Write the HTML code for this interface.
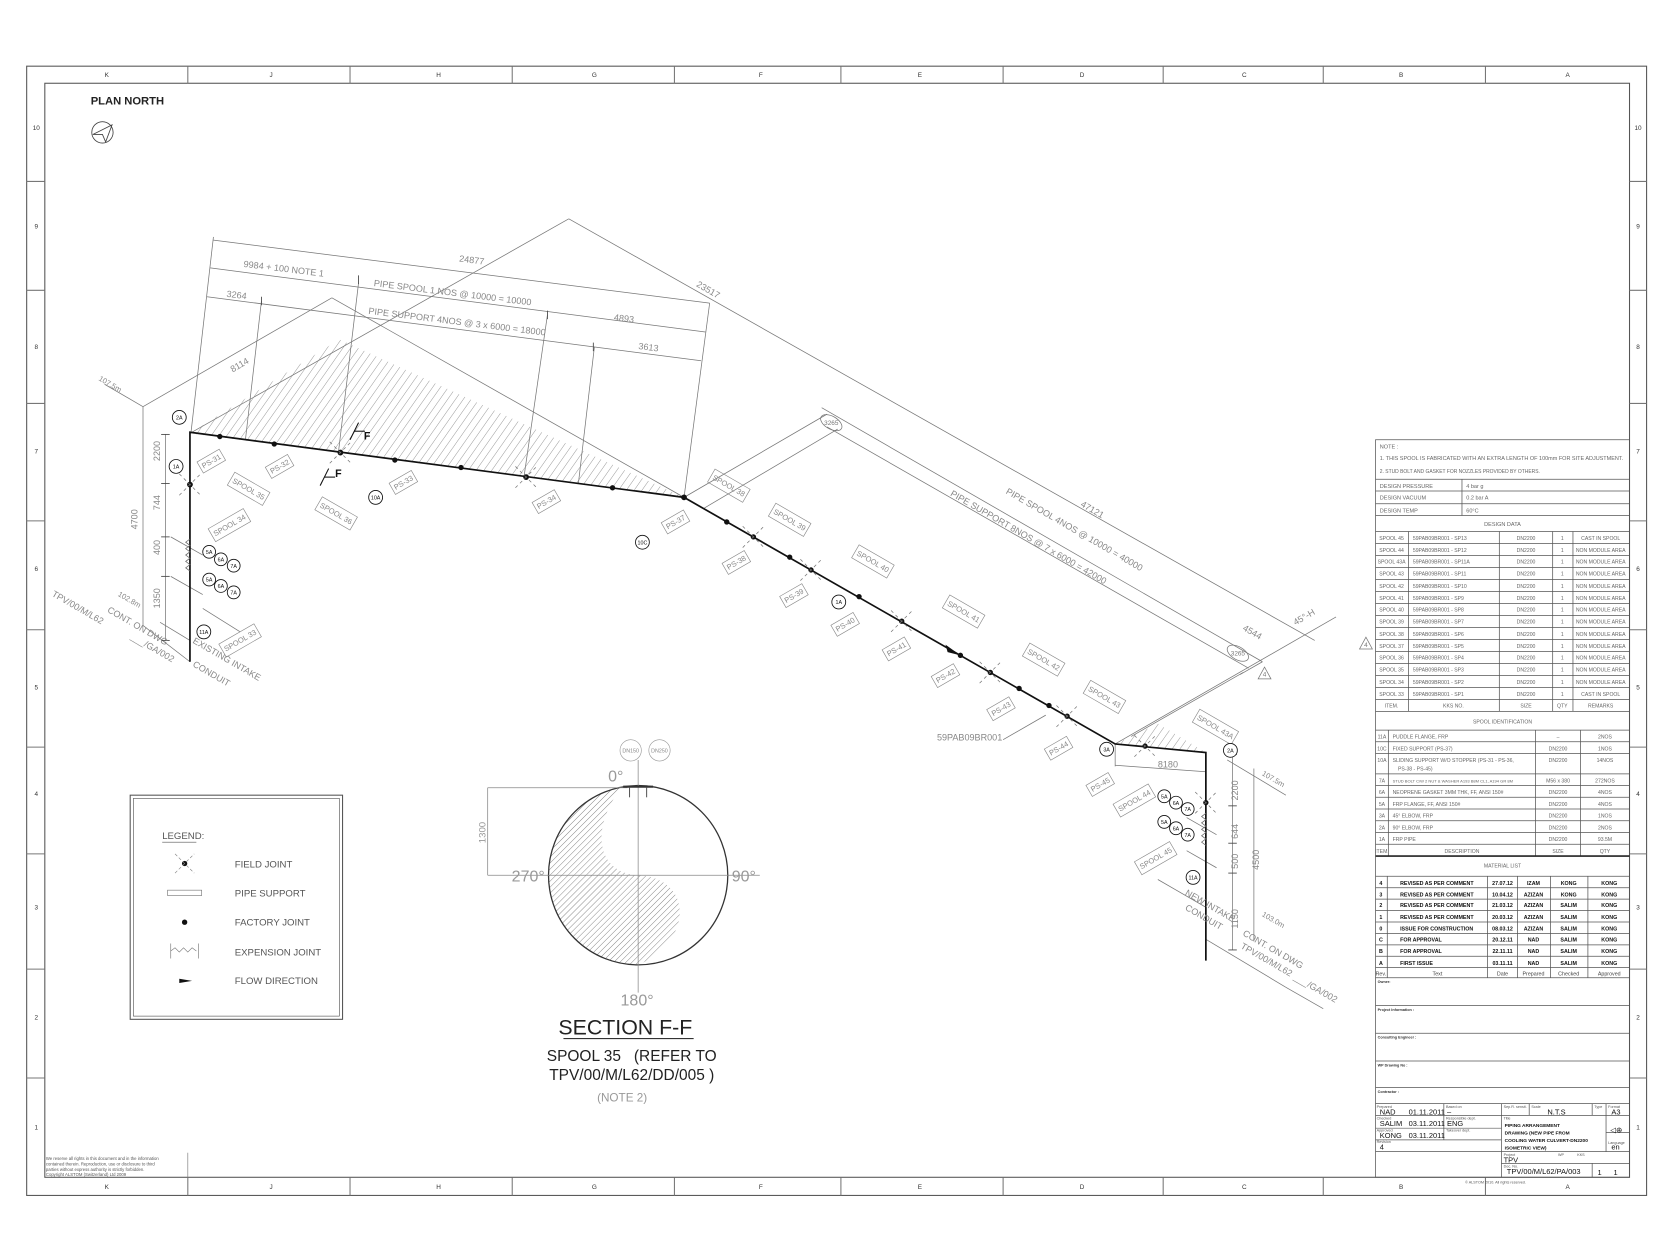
<!DOCTYPE html>
<html><head><meta charset="utf-8"><style>
html,body{margin:0;padding:0;background:#fff;}
svg{display:block}
text{font-family:"Liberation Sans Narrow","Liberation Sans",sans-serif;}
.g{fill:#777}
.k{fill:#111}
.b{font-weight:bold}
</style></head><body>
<svg width="1669" height="1252" viewBox="0 0 1564 1173" preserveAspectRatio="none" xmlns="http://www.w3.org/2000/svg">
<defs>
<pattern id="h" patternUnits="userSpaceOnUse" width="6" height="6" patternTransform="rotate(35)">
<line x1="0" y1="0" x2="0" y2="6" stroke="#777" stroke-width="0.7"/></pattern>
<pattern id="h2" patternUnits="userSpaceOnUse" width="4" height="4" patternTransform="rotate(45)">
<line x1="0" y1="0" x2="0" y2="4" stroke="#777" stroke-width="0.8"/></pattern>
<clipPath id="cc"><circle cx="598" cy="820" r="84"/></clipPath>
</defs>
<rect width="1564" height="1173" fill="#fff"/>
<!-- border -->
<g fill="none" stroke="#555" stroke-width="1">
<rect x="25" y="62" width="1518" height="1058"/>
<rect x="42" y="78" width="1485" height="1025"/>
</g>
<g stroke="#777" stroke-width="1">
<line x1="176" y1="62" x2="176" y2="78"/><line x1="328" y1="62" x2="328" y2="78"/><line x1="480" y1="62" x2="480" y2="78"/><line x1="632" y1="62" x2="632" y2="78"/><line x1="788" y1="62" x2="788" y2="78"/><line x1="940" y1="62" x2="940" y2="78"/><line x1="1090" y1="62" x2="1090" y2="78"/><line x1="1240" y1="62" x2="1240" y2="78"/><line x1="1392" y1="62" x2="1392" y2="78"/>
<line x1="176" y1="1103" x2="176" y2="1120"/><line x1="328" y1="1103" x2="328" y2="1120"/><line x1="480" y1="1103" x2="480" y2="1120"/><line x1="632" y1="1103" x2="632" y2="1120"/><line x1="788" y1="1103" x2="788" y2="1120"/><line x1="940" y1="1103" x2="940" y2="1120"/><line x1="1090" y1="1103" x2="1090" y2="1120"/><line x1="1240" y1="1103" x2="1240" y2="1120"/><line x1="1392" y1="1103" x2="1392" y2="1120"/>
<line x1="25" y1="170" x2="42" y2="170"/><line x1="25" y1="272" x2="42" y2="272"/><line x1="25" y1="378" x2="42" y2="378"/><line x1="25" y1="488" x2="42" y2="488"/><line x1="25" y1="590" x2="42" y2="590"/><line x1="25" y1="700" x2="42" y2="700"/><line x1="25" y1="800" x2="42" y2="800"/><line x1="25" y1="908" x2="42" y2="908"/><line x1="25" y1="1010" x2="42" y2="1010"/>
<line x1="1527" y1="170" x2="1543" y2="170"/><line x1="1527" y1="272" x2="1543" y2="272"/><line x1="1527" y1="378" x2="1543" y2="378"/><line x1="1527" y1="488" x2="1543" y2="488"/><line x1="1527" y1="590" x2="1543" y2="590"/><line x1="1527" y1="700" x2="1543" y2="700"/><line x1="1527" y1="800" x2="1543" y2="800"/><line x1="1527" y1="908" x2="1543" y2="908"/><line x1="1527" y1="1010" x2="1543" y2="1010"/>
</g>
<g font-size="6" fill="#333" text-anchor="middle">
<text x="100" y="72">K</text><text x="254" y="72">J</text><text x="411" y="72">H</text><text x="557" y="72">G</text><text x="713" y="72">F</text><text x="862" y="72">E</text><text x="1014" y="72">D</text><text x="1166" y="72">C</text><text x="1313" y="72">B</text><text x="1469" y="72">A</text>
<text x="100" y="1114">K</text><text x="254" y="1114">J</text><text x="411" y="1114">H</text><text x="557" y="1114">G</text><text x="713" y="1114">F</text><text x="862" y="1114">E</text><text x="1014" y="1114">D</text><text x="1166" y="1114">C</text><text x="1313" y="1114">B</text><text x="1469" y="1114">A</text>
<text x="34" y="122">10</text><text x="34" y="214">9</text><text x="34" y="327">8</text><text x="34" y="425">7</text><text x="34" y="535">6</text><text x="34" y="646">5</text><text x="34" y="746">4</text><text x="34" y="852">3</text><text x="34" y="955">2</text><text x="34" y="1058">1</text>
<text x="1535" y="122">10</text><text x="1535" y="214">9</text><text x="1535" y="327">8</text><text x="1535" y="425">7</text><text x="1535" y="535">6</text><text x="1535" y="646">5</text><text x="1535" y="746">4</text><text x="1535" y="852">3</text><text x="1535" y="955">2</text><text x="1535" y="1058">1</text>
</g>
<!-- plan north -->
<text x="85" y="98" font-size="10.5" class="b" fill="#222" style="font-family:'Liberation Sans',sans-serif">PLAN NORTH</text>
<circle cx="96" cy="124" r="10" fill="none" stroke="#444" stroke-width="0.8"/>
<path d="M87 126 L105 117 L99 133 L96 126 Z" fill="none" stroke="#444" stroke-width="0.8"/>

<!-- hatch triangles -->
<polygon points="178,406 318,318 641,466" fill="url(#h)"/>
<polygon points="1045,697 1085,678 1130,705" fill="url(#h)"/>

<!-- thin construction lines -->
<g stroke="#777" stroke-width="0.7" fill="none">
<line x1="178" y1="406" x2="533" y2="205"/>
<line x1="533" y1="205" x2="1232" y2="600"/>
<line x1="134" y1="381" x2="311" y2="279"/>
<line x1="311" y1="279" x2="641" y2="466"/>
<line x1="200" y1="225" x2="665" y2="284"/>
<line x1="197" y1="251" x2="661" y2="311"/>
<line x1="194" y1="278" x2="657" y2="338"/>
<line x1="179" y1="405" x2="200" y2="222"/>
<line x1="245" y1="282" x2="230" y2="412"/>
<line x1="336" y1="265" x2="317" y2="425"/>
<line x1="513" y1="295" x2="491" y2="447"/>
<line x1="557" y1="325" x2="542" y2="453"/>
<line x1="665" y1="284" x2="641" y2="466"/>
<line x1="134" y1="381" x2="134" y2="586"/>
<line x1="98" y1="360" x2="134" y2="381"/>
<line x1="155" y1="407" x2="155" y2="600"/>
<line x1="134" y1="586" x2="178" y2="620"/>
<line x1="641" y1="466" x2="775" y2="388"/>
<line x1="660" y1="476" x2="785" y2="402"/>
<line x1="770" y1="382" x2="1183" y2="620"/>
<line x1="775" y1="400" x2="1170" y2="626"/>
<line x1="1045" y1="697" x2="1252" y2="578"/>
<line x1="1060" y1="690" x2="1165" y2="630"/>
<line x1="1183" y1="620" x2="1162" y2="632"/>
<line x1="1045" y1="697" x2="1045" y2="718"/>
<line x1="1045" y1="717" x2="1130" y2="723"/>
<line x1="1155" y1="707" x2="1155" y2="890"/>
<line x1="1175" y1="720" x2="1175" y2="882"/>
<line x1="1150" y1="712" x2="1205" y2="745"/>
<line x1="1130" y1="880" x2="1205" y2="925"/>
<line x1="1205" y1="925" x2="1240" y2="945"/>
<line x1="160" y1="503" x2="190" y2="520"/>
<line x1="160" y1="540" x2="190" y2="557"/>
<line x1="1112" y1="766" x2="1140" y2="782"/>
<line x1="1112" y1="797" x2="1140" y2="813"/>
<line x1="940" y1="693" x2="980" y2="670"/>
<line x1="1085" y1="824" x2="1130" y2="850"/>
<line x1="190" y1="570" x2="225" y2="592"/>
<line x1="150" y1="583" x2="178" y2="600"/>
</g>
<g stroke="#444" stroke-width="0.8">
<line x1="151" y1="407" x2="159" y2="407"/><line x1="151" y1="453" x2="159" y2="453"/><line x1="151" y1="503" x2="159" y2="503"/><line x1="151" y1="540" x2="159" y2="540"/><line x1="151" y1="600" x2="159" y2="600"/>
<line x1="1151" y1="707" x2="1159" y2="707"/><line x1="1151" y1="755" x2="1159" y2="755"/><line x1="1151" y1="790" x2="1159" y2="790"/><line x1="1151" y1="818" x2="1159" y2="818"/><line x1="1151" y1="890" x2="1159" y2="890"/>
<line x1="245" y1="278" x2="245" y2="286"/><line x1="556" y1="321" x2="556" y2="329"/><line x1="336" y1="258" x2="336" y2="266"/><line x1="513" y1="291" x2="513" y2="299"/>
</g>
<!-- pipe -->
<g stroke="#111" stroke-width="1.6" fill="none">
<polyline points="178,620 178,405 641,466 1045,697 1130,705 1130,900"/>
</g>
<!-- expansion joints -->
<path d="M178 505 l-4 3 4 3 -4 3 4 3 -4 3 4 3 -4 3 4 3 -4 3 4 3" fill="none" stroke="#666" stroke-width="0.7"/>
<path d="M1130 762 l-4 3 4 3 -4 3 4 3 -4 3 4 3 -4 3 4 3 -4 3 4 3" fill="none" stroke="#666" stroke-width="0.7"/>
<!-- joints -->
<g fill="#111">
<circle cx="206" cy="409" r="2.5"/><circle cx="257" cy="416" r="2.5"/><circle cx="319" cy="424" r="2.7"/><circle cx="370" cy="431" r="2.5"/><circle cx="432" cy="438" r="2.5"/><circle cx="493" cy="447" r="2.7"/><circle cx="574" cy="457" r="2.5"/><circle cx="641" cy="466" r="2.7"/>
<circle cx="178" cy="454" r="2.7"/>
<circle cx="681" cy="489" r="2.5"/><circle cx="706" cy="503" r="2.5"/><circle cx="740" cy="522" r="2.5"/><circle cx="760" cy="534" r="2.5"/><circle cx="805" cy="559" r="2.5"/><circle cx="845" cy="582" r="2.5"/><circle cx="900" cy="614" r="2.5"/><circle cx="928" cy="630" r="2.5"/><circle cx="955" cy="645" r="2.5"/><circle cx="983" cy="661" r="2.5"/><circle cx="1000" cy="671" r="2.5"/><circle cx="1073" cy="699" r="2.5"/><circle cx="1130" cy="752" r="2.5"/>
<path d="M886 604 L900 614 L888 611 Z"/>
</g>
<g stroke="#777" stroke-width="0.7" stroke-dasharray="3,3">
<line x1="168" y1="444" x2="188" y2="464"/><line x1="168" y1="464" x2="188" y2="444"/>
<line x1="309" y1="414" x2="329" y2="434"/><line x1="309" y1="434" x2="329" y2="414"/>
<line x1="483" y1="437" x2="503" y2="457"/><line x1="483" y1="457" x2="503" y2="437"/>
<line x1="696" y1="493" x2="716" y2="513"/><line x1="696" y1="513" x2="716" y2="493"/>
<line x1="750" y1="524" x2="770" y2="544"/><line x1="750" y1="544" x2="770" y2="524"/>
<line x1="835" y1="572" x2="855" y2="592"/><line x1="835" y1="592" x2="855" y2="572"/>
<line x1="918" y1="620" x2="938" y2="640"/><line x1="918" y1="640" x2="938" y2="620"/>
<line x1="990" y1="661" x2="1010" y2="681"/><line x1="990" y1="681" x2="1010" y2="661"/>
<line x1="1063" y1="689" x2="1083" y2="709"/><line x1="1063" y1="709" x2="1083" y2="689"/>
<line x1="1120" y1="742" x2="1140" y2="762"/><line x1="1120" y1="762" x2="1140" y2="742"/>
</g>
<!-- section markers F -->
<g stroke="#111" stroke-width="1" fill="#111">
<line x1="328" y1="412" x2="336" y2="396"/><line x1="332" y1="404" x2="342" y2="404"/>
<line x1="300" y1="455" x2="308" y2="439"/><line x1="304" y1="447" x2="314" y2="447"/>
</g>
<text x="341" y="412" font-size="10" class="b k" style="font-family:'Liberation Sans',sans-serif">F</text>
<text x="314" y="447" font-size="10" class="b k" style="font-family:'Liberation Sans',sans-serif">F</text>

<!-- boxed labels -->
<g font-size="7" fill="#888" text-anchor="middle" stroke="none">
<g transform="translate(198,432) rotate(-30)"><rect x="-12" y="-6" width="24" height="12" fill="none" stroke="#888" stroke-width="0.6"/><text y="2.5">PS-31</text></g>
<g transform="translate(233,458) rotate(30)"><rect x="-19" y="-7" width="38" height="14" fill="none" stroke="#888" stroke-width="0.6"/><text y="2.5">SPOOL 35</text></g>
<g transform="translate(262,437) rotate(-30)"><rect x="-12" y="-6" width="24" height="12" fill="none" stroke="#888" stroke-width="0.6"/><text y="2.5">PS-32</text></g>
<g transform="translate(315,481) rotate(30)"><rect x="-19" y="-7" width="38" height="14" fill="none" stroke="#888" stroke-width="0.6"/><text y="2.5">SPOOL 36</text></g>
<g transform="translate(378,452) rotate(-30)"><rect x="-12" y="-6" width="24" height="12" fill="none" stroke="#888" stroke-width="0.6"/><text y="2.5">PS-33</text></g>
<g transform="translate(215,492) rotate(-30)"><rect x="-19" y="-7" width="38" height="14" fill="none" stroke="#888" stroke-width="0.6"/><text y="2.5">SPOOL 34</text></g>
<g transform="translate(225,600) rotate(-30)"><rect x="-19" y="-7" width="38" height="14" fill="none" stroke="#888" stroke-width="0.6"/><text y="2.5">SPOOL 33</text></g>
<g transform="translate(512,470) rotate(-30)"><rect x="-12" y="-6" width="24" height="12" fill="none" stroke="#888" stroke-width="0.6"/><text y="2.5">PS-34</text></g>
<g transform="translate(633,489) rotate(-30)"><rect x="-12" y="-6" width="24" height="12" fill="none" stroke="#888" stroke-width="0.6"/><text y="2.5">PS-37</text></g>
<g transform="translate(683,455) rotate(30)"><rect x="-19" y="-7" width="38" height="14" fill="none" stroke="#888" stroke-width="0.6"/><text y="2.5">SPOOL 38</text></g>
<g transform="translate(740,487) rotate(30)"><rect x="-19" y="-7" width="38" height="14" fill="none" stroke="#888" stroke-width="0.6"/><text y="2.5">SPOOL 39</text></g>
<g transform="translate(690,527) rotate(-30)"><rect x="-12" y="-6" width="24" height="12" fill="none" stroke="#888" stroke-width="0.6"/><text y="2.5">PS-38</text></g>
<g transform="translate(818,526) rotate(30)"><rect x="-19" y="-7" width="38" height="14" fill="none" stroke="#888" stroke-width="0.6"/><text y="2.5">SPOOL 40</text></g>
<g transform="translate(744,558) rotate(-30)"><rect x="-12" y="-6" width="24" height="12" fill="none" stroke="#888" stroke-width="0.6"/><text y="2.5">PS-39</text></g>
<g transform="translate(792,585) rotate(-30)"><rect x="-12" y="-6" width="24" height="12" fill="none" stroke="#888" stroke-width="0.6"/><text y="2.5">PS-40</text></g>
<g transform="translate(903,573) rotate(30)"><rect x="-19" y="-7" width="38" height="14" fill="none" stroke="#888" stroke-width="0.6"/><text y="2.5">SPOOL 41</text></g>
<g transform="translate(840,608) rotate(-30)"><rect x="-12" y="-6" width="24" height="12" fill="none" stroke="#888" stroke-width="0.6"/><text y="2.5">PS-41</text></g>
<g transform="translate(886,633) rotate(-30)"><rect x="-12" y="-6" width="24" height="12" fill="none" stroke="#888" stroke-width="0.6"/><text y="2.5">PS-42</text></g>
<g transform="translate(978,618) rotate(30)"><rect x="-19" y="-7" width="38" height="14" fill="none" stroke="#888" stroke-width="0.6"/><text y="2.5">SPOOL 42</text></g>
<g transform="translate(938,664) rotate(-30)"><rect x="-12" y="-6" width="24" height="12" fill="none" stroke="#888" stroke-width="0.6"/><text y="2.5">PS-43</text></g>
<g transform="translate(1035,653) rotate(30)"><rect x="-19" y="-7" width="38" height="14" fill="none" stroke="#888" stroke-width="0.6"/><text y="2.5">SPOOL 43</text></g>
<g transform="translate(992,701) rotate(-30)"><rect x="-12" y="-6" width="24" height="12" fill="none" stroke="#888" stroke-width="0.6"/><text y="2.5">PS-44</text></g>
<g transform="translate(1031,735) rotate(-30)"><rect x="-12" y="-6" width="24" height="12" fill="none" stroke="#888" stroke-width="0.6"/><text y="2.5">PS-45</text></g>
<g transform="translate(1139,681) rotate(30)"><rect x="-21" y="-7" width="42" height="14" fill="none" stroke="#888" stroke-width="0.6"/><text y="2.5">SPOOL 43A</text></g>
<g transform="translate(1063,750) rotate(-30)"><rect x="-19" y="-7" width="38" height="14" fill="none" stroke="#888" stroke-width="0.6"/><text y="2.5">SPOOL 44</text></g>
<g transform="translate(1083,804) rotate(-30)"><rect x="-19" y="-7" width="38" height="14" fill="none" stroke="#888" stroke-width="0.6"/><text y="2.5">SPOOL 45</text></g>
</g>

<!-- bubbles -->
<g fill="#fff" stroke="#111" stroke-width="0.8">
<circle cx="168" cy="391" r="6.5"/><circle cx="165" cy="437" r="6.5"/><circle cx="352" cy="466" r="6.5"/><circle cx="602" cy="508" r="6.5"/>
<circle cx="196" cy="517" r="6"/><circle cx="207" cy="524" r="6"/><circle cx="219" cy="530" r="6"/>
<circle cx="196" cy="543" r="6"/><circle cx="207" cy="549" r="6"/><circle cx="219" cy="555" r="6"/>
<circle cx="191" cy="592" r="6.5"/><circle cx="786" cy="564" r="6.5"/><circle cx="1037" cy="702" r="6.5"/><circle cx="1153" cy="703" r="6.5"/>
<circle cx="1091" cy="746" r="6"/><circle cx="1102" cy="752" r="6"/><circle cx="1113" cy="758" r="6"/>
<circle cx="1091" cy="770" r="6"/><circle cx="1102" cy="776" r="6"/><circle cx="1113" cy="782" r="6"/>
<circle cx="1118" cy="822" r="6.5"/>
</g>
<g font-size="5" fill="#111" text-anchor="middle">
<text x="168" y="393">2A</text><text x="165" y="439">1A</text><text x="352" y="468">10A</text><text x="602" y="510">10C</text>
<text x="196" y="519">5A</text><text x="207" y="526">6A</text><text x="219" y="532">7A</text>
<text x="196" y="545">5A</text><text x="207" y="551">6A</text><text x="219" y="557">7A</text>
<text x="191" y="594">11A</text><text x="786" y="566">1A</text><text x="1037" y="704">3A</text><text x="1153" y="705">2A</text>
<text x="1091" y="748">5A</text><text x="1102" y="754">6A</text><text x="1113" y="760">7A</text>
<text x="1091" y="772">5A</text><text x="1102" y="778">6A</text><text x="1113" y="784">7A</text>
<text x="1118" y="824">11A</text>
</g>

<!-- dimension texts -->
<g font-size="8.5" fill="#888">
<text transform="translate(228,250) rotate(7)">9984 + 100 NOTE 1</text>
<text transform="translate(430,245) rotate(7)">24877</text>
<text transform="translate(350,268) rotate(7)">PIPE SPOOL 1 NOS @ 10000 = 10000</text>
<text transform="translate(212,278) rotate(7)">3264</text>
<text transform="translate(345,294) rotate(7)">PIPE SUPPORT 4NOS @ 3 x 6000 = 18000</text>
<text transform="translate(575,300) rotate(7)">4893</text>
<text transform="translate(598,327) rotate(7)">3613</text>
<text transform="translate(218,349) rotate(-30)">8114</text>
<text transform="translate(652,268) rotate(30)">23517</text>
<text transform="translate(92,356) rotate(30)" font-size="7">107.5m</text>
<text transform="translate(150,432) rotate(-90)">2200</text>
<text transform="translate(150,478) rotate(-90)">744</text>
<text transform="translate(150,520) rotate(-90)">400</text>
<text transform="translate(150,570) rotate(-90)">1350</text>
<text transform="translate(129,496) rotate(-90)">4700</text>
<text transform="translate(110,558) rotate(30)" font-size="7">102.8m</text>
<text transform="translate(100,573) rotate(30)">CONT. ON DWG</text>
<text transform="translate(48,558) rotate(30)">TPV/00/M/L62</text>
<text transform="translate(122,598) rotate(30)">___/GA/002</text>
<text transform="translate(180,602) rotate(30)">EXISTING INTAKE</text>
<text transform="translate(180,624) rotate(30)">CONDUIT</text>
<text transform="translate(1012,474) rotate(30)">47121</text>
<text transform="translate(942,462) rotate(30)">PIPE SPOOL 4NOS @ 10000 = 40000</text>
<text transform="translate(890,464) rotate(30)">PIPE SUPPORT 8NOS @ 7 x 6000 = 42000</text>
<text transform="translate(1164,590) rotate(30)">4544</text>
<text transform="translate(1214,586) rotate(-30)">45°-H</text>
<text x="1085" y="719">8180</text>
<text x="878" y="694">59PAB09BR001</text>
<text transform="translate(1160,750) rotate(-90)">2200</text>
<text transform="translate(1160,786) rotate(-90)">644</text>
<text transform="translate(1160,814) rotate(-90)">500</text>
<text transform="translate(1160,870) rotate(-90)">1150</text>
<text transform="translate(1180,815) rotate(-90)">4500</text>
<text transform="translate(1182,726) rotate(30)" font-size="7">107.5m</text>
<text transform="translate(1182,858) rotate(30)" font-size="7">103.0m</text>
<text transform="translate(1164,876) rotate(30)">CONT. ON DWG</text>
<text transform="translate(1162,888) rotate(30)">TPV/00/M/L62</text>
<text transform="translate(1212,917) rotate(30)">___/GA/002</text>
<text transform="translate(1110,838) rotate(30)">NEW INTAKE</text>
<text transform="translate(1110,852) rotate(30)">CONDUIT</text>
</g>
<!-- revision clouds -->
<g fill="none" stroke="#777" stroke-width="0.7">
<ellipse cx="779" cy="396" rx="11" ry="6" transform="rotate(30 779 396)"/>
<ellipse cx="1160" cy="612" rx="11" ry="6" transform="rotate(30 1160 612)"/>
<polygon points="1185,625 1179,636 1191,636"/>
<polygon points="1280,597 1274,608 1286,608"/>
</g>
<g font-size="6" fill="#777" text-anchor="middle"><text x="779" y="398">3265</text><text x="1160" y="614">3265</text><text x="1185" y="634">4</text><text x="1280" y="606">4</text></g>

<!-- section F-F -->
<g>
<path clip-path="url(#cc)" d="M500 700 L582 700 L582 738 C552 778 560 818 598 820 C648 822 652 880 598 904 L598 950 L500 950 Z" fill="url(#h2)"/>
<circle cx="598" cy="820" r="84" fill="none" stroke="#333" stroke-width="1.2"/>
<g stroke="#888" stroke-width="0.7"><line x1="598" y1="712" x2="598" y2="930"/><line x1="457" y1="820" x2="712" y2="820"/><line x1="457" y1="738" x2="588" y2="738"/><line x1="457" y1="738" x2="457" y2="820"/></g>
<line x1="584" y1="737" x2="612" y2="737" stroke="#333" stroke-width="2"/>
<line x1="590" y1="738" x2="590" y2="747" stroke="#333" stroke-width="0.8"/>
<line x1="606" y1="738" x2="606" y2="747" stroke="#333" stroke-width="0.8"/>
<circle cx="591" cy="703" r="10" fill="none" stroke="#999" stroke-width="0.6"/>
<circle cx="618" cy="703" r="10" fill="none" stroke="#999" stroke-width="0.6"/>
<g font-size="5" fill="#888" text-anchor="middle"><text x="591" y="705">DN150</text><text x="618" y="705">DN250</text></g>
<g font-size="15" fill="#999" text-anchor="middle"><text x="577" y="732">0°</text><text x="495" y="826">270°</text><text x="697" y="826">90°</text><text x="597" y="942">180°</text></g>
<text transform="translate(455,790) rotate(-90)" font-size="9" fill="#999">1300</text>
<text x="586" y="969" font-size="20" fill="#222" text-anchor="middle" style="font-family:'Liberation Sans',sans-serif">SECTION F-F</text>
<line x1="528" y1="973" x2="650" y2="973" stroke="#333" stroke-width="1"/>
<text x="592" y="994" font-size="14.5" fill="#222" text-anchor="middle" style="font-family:'Liberation Sans',sans-serif;white-space:pre" xml:space="preserve">SPOOL 35   (REFER TO</text>
<text x="592" y="1012" font-size="14.5" fill="#222" text-anchor="middle" style="font-family:'Liberation Sans',sans-serif">TPV/00/M/L62/DD/005 )</text>
<text x="583" y="1032" font-size="11" fill="#999" text-anchor="middle">(NOTE 2)</text>
</g>

<!-- legend -->
<g>
<rect x="122" y="745" width="199" height="210" fill="none" stroke="#555" stroke-width="1"/>
<rect x="125" y="748" width="193" height="204" fill="none" stroke="#555" stroke-width="0.6"/>
<text x="152" y="786" font-size="9" fill="#555">LEGEND:</text>
<line x1="152" y1="789" x2="184" y2="789" stroke="#555" stroke-width="0.6"/>
<g font-size="9" fill="#555"><text x="220" y="813">FIELD JOINT</text><text x="220" y="840">PIPE SUPPORT</text><text x="220" y="867">FACTORY JOINT</text><text x="220" y="895">EXPENSION JOINT</text><text x="220" y="922">FLOW DIRECTION</text></g>
<circle cx="173" cy="809" r="2.5" fill="#111"/>
<g stroke="#888" stroke-width="0.6" stroke-dasharray="3,2"><line x1="164" y1="800" x2="182" y2="818"/><line x1="164" y1="818" x2="182" y2="800"/></g>
<rect x="157" y="834" width="32" height="5" fill="none" stroke="#777" stroke-width="0.6"/>
<circle cx="173" cy="864" r="2.5" fill="#111"/>
<path d="M160 884 v14 M186 884 v14 M160 891 l4 -3 4 4 4 -4 4 4 4 -4 4 3" fill="none" stroke="#777" stroke-width="0.6"/>
<path d="M168 917 L180 919 L168 921 Z" fill="#111"/>
</g>

<!-- copyright -->
<g font-size="4" fill="#555"><text x="43" y="1087">We reserve all rights in this document and in the information</text><text x="43" y="1092">contained therein. Reproduction, use or disclosure to third</text><text x="43" y="1097">parties without express authority is strictly forbidden.</text><text x="43" y="1102">Copyright ALSTOM (Switzerland) Ltd 2009</text></g>
<line x1="176" y1="1080" x2="176" y2="1103" stroke="#777" stroke-width="0.6"/>

<!-- TITLE BLOCK -->
<g fill="none" stroke="#555" stroke-width="0.7">
<rect x="1289" y="412" width="238" height="691"/>
<line x1="1289" y1="449" x2="1527" y2="449"/><line x1="1289" y1="460" x2="1527" y2="460"/><line x1="1289" y1="472" x2="1527" y2="472"/><line x1="1289" y1="483" x2="1527" y2="483"/>
<line x1="1370" y1="449" x2="1370" y2="483"/>
<line x1="1289" y1="498" x2="1527" y2="498"/>
<line x1="1289" y1="509.2" x2="1527" y2="509.2"/><line x1="1289" y1="520.5" x2="1527" y2="520.5"/><line x1="1289" y1="531.7" x2="1527" y2="531.7"/><line x1="1289" y1="542.9" x2="1527" y2="542.9"/><line x1="1289" y1="554.2" x2="1527" y2="554.2"/><line x1="1289" y1="565.4" x2="1527" y2="565.4"/><line x1="1289" y1="576.6" x2="1527" y2="576.6"/><line x1="1289" y1="587.8" x2="1527" y2="587.8"/><line x1="1289" y1="599.1" x2="1527" y2="599.1"/><line x1="1289" y1="610.3" x2="1527" y2="610.3"/><line x1="1289" y1="621.5" x2="1527" y2="621.5"/><line x1="1289" y1="632.8" x2="1527" y2="632.8"/><line x1="1289" y1="644" x2="1527" y2="644"/><line x1="1289" y1="655.2" x2="1527" y2="655.2"/><line x1="1289" y1="666.5" x2="1527" y2="666.5"/>
<line x1="1320" y1="498" x2="1320" y2="666.5"/><line x1="1405" y1="498" x2="1405" y2="666.5"/><line x1="1455" y1="498" x2="1455" y2="666.5"/><line x1="1474" y1="498" x2="1474" y2="666.5"/>
<line x1="1289" y1="684" x2="1527" y2="684"/><line x1="1289" y1="695" x2="1527" y2="695"/><line x1="1289" y1="706" x2="1527" y2="706"/><line x1="1289" y1="725" x2="1527" y2="725"/><line x1="1289" y1="736" x2="1527" y2="736"/><line x1="1289" y1="747" x2="1527" y2="747"/><line x1="1289" y1="758" x2="1527" y2="758"/><line x1="1289" y1="769" x2="1527" y2="769"/><line x1="1289" y1="780" x2="1527" y2="780"/><line x1="1289" y1="791" x2="1527" y2="791"/>
<line x1="1301" y1="684" x2="1301" y2="802"/><line x1="1439" y1="684" x2="1439" y2="802"/><line x1="1481" y1="684" x2="1481" y2="802"/>
<line x1="1289" y1="802" x2="1527" y2="802" stroke-width="1.5" stroke="#222"/>
<line x1="1289" y1="821" x2="1527" y2="821"/>
<line x1="1289" y1="831.7" x2="1527" y2="831.7"/><line x1="1289" y1="842.4" x2="1527" y2="842.4"/><line x1="1289" y1="853.1" x2="1527" y2="853.1"/><line x1="1289" y1="863.8" x2="1527" y2="863.8"/><line x1="1289" y1="874.5" x2="1527" y2="874.5"/><line x1="1289" y1="885.2" x2="1527" y2="885.2"/><line x1="1289" y1="895.9" x2="1527" y2="895.9"/><line x1="1289" y1="906.6" x2="1527" y2="906.6"/><line x1="1289" y1="916" x2="1527" y2="916"/>
<line x1="1300" y1="821" x2="1300" y2="916"/><line x1="1394" y1="821" x2="1394" y2="916"/><line x1="1422" y1="821" x2="1422" y2="916"/><line x1="1453" y1="821" x2="1453" y2="916"/><line x1="1488" y1="821" x2="1488" y2="916"/>
<line x1="1289" y1="942" x2="1527" y2="942"/><line x1="1289" y1="968" x2="1527" y2="968"/><line x1="1289" y1="994" x2="1527" y2="994"/><line x1="1289" y1="1019" x2="1527" y2="1019"/><line x1="1289" y1="1034" x2="1527" y2="1034"/>
<line x1="1289" y1="1045" x2="1407" y2="1045"/><line x1="1289" y1="1057" x2="1407" y2="1057"/><line x1="1289" y1="1068" x2="1407" y2="1068"/><line x1="1289" y1="1079" x2="1527" y2="1079"/>
<line x1="1353" y1="1034" x2="1353" y2="1068"/><line x1="1407" y1="1034" x2="1407" y2="1103"/>
<line x1="1407" y1="1045" x2="1527" y2="1045"/><line x1="1433" y1="1034" x2="1433" y2="1045"/><line x1="1492" y1="1034" x2="1492" y2="1045"/><line x1="1505" y1="1034" x2="1505" y2="1079"/>
<line x1="1505" y1="1061" x2="1527" y2="1061"/><line x1="1407" y1="1090" x2="1527" y2="1090"/><line x1="1492" y1="1090" x2="1492" y2="1103"/>
</g>
<g font-size="5.2" fill="#666">
<text x="1293" y="420">NOTE :</text>
<text x="1293" y="431" textLength="228" lengthAdjust="spacingAndGlyphs">1. THIS SPOOL IS FABRICATED WITH AN EXTRA LENGTH OF 100mm FOR SITE ADJUSTMENT.</text>
<text x="1293" y="443" textLength="150" lengthAdjust="spacingAndGlyphs">2. STUD BOLT AND GASKET FOR NOZZLES PROVIDED BY OTHERS.</text>
<text x="1293" y="457">DESIGN PRESSURE</text><text x="1374" y="457">4 bar g</text>
<text x="1293" y="468">DESIGN VACUUM</text><text x="1374" y="468">0.2 bar A</text>
<text x="1293" y="480">DESIGN TEMP</text><text x="1374" y="480">60°C</text>
<text x="1408" y="493" text-anchor="middle">DESIGN  DATA</text>
</g>
<g font-size="4.8" fill="#666">
<g text-anchor="middle">
<text x="1304" y="506">SPOOL 45</text><text x="1304" y="517">SPOOL 44</text><text x="1304" y="528">SPOOL 43A</text><text x="1304" y="539">SPOOL 43</text><text x="1304" y="551">SPOOL 42</text><text x="1304" y="562">SPOOL 41</text><text x="1304" y="573">SPOOL 40</text><text x="1304" y="584">SPOOL 39</text><text x="1304" y="596">SPOOL 38</text><text x="1304" y="607">SPOOL 37</text><text x="1304" y="618">SPOOL 36</text><text x="1304" y="629">SPOOL 35</text><text x="1304" y="641">SPOOL 34</text><text x="1304" y="652">SPOOL 33</text><text x="1304" y="663">ITEM.</text>
<text x="1430" y="506">DN2200</text><text x="1430" y="517">DN2200</text><text x="1430" y="528">DN2200</text><text x="1430" y="539">DN2200</text><text x="1430" y="551">DN2200</text><text x="1430" y="562">DN2200</text><text x="1430" y="573">DN2200</text><text x="1430" y="584">DN2200</text><text x="1430" y="596">DN2200</text><text x="1430" y="607">DN2200</text><text x="1430" y="618">DN2200</text><text x="1430" y="629">DN2200</text><text x="1430" y="641">DN2200</text><text x="1430" y="652">DN2200</text><text x="1430" y="663">SIZE</text>
<text x="1464" y="506">1</text><text x="1464" y="517">1</text><text x="1464" y="528">1</text><text x="1464" y="539">1</text><text x="1464" y="551">1</text><text x="1464" y="562">1</text><text x="1464" y="573">1</text><text x="1464" y="584">1</text><text x="1464" y="596">1</text><text x="1464" y="607">1</text><text x="1464" y="618">1</text><text x="1464" y="629">1</text><text x="1464" y="641">1</text><text x="1464" y="652">1</text><text x="1464" y="663">QTY</text>
<text x="1500" y="506">CAST IN SPOOL</text><text x="1500" y="517">NON MODULE AREA</text><text x="1500" y="528">NON MODULE AREA</text><text x="1500" y="539">NON MODULE AREA</text><text x="1500" y="551">NON MODULE AREA</text><text x="1500" y="562">NON MODULE AREA</text><text x="1500" y="573">NON MODULE AREA</text><text x="1500" y="584">NON MODULE AREA</text><text x="1500" y="596">NON MODULE AREA</text><text x="1500" y="607">NON MODULE AREA</text><text x="1500" y="618">NON MODULE AREA</text><text x="1500" y="629">NON MODULE AREA</text><text x="1500" y="641">NON MODULE AREA</text><text x="1500" y="652">CAST IN SPOOL</text><text x="1500" y="663">REMARKS</text>
<text x="1362" y="663">KKS NO.</text>
<text x="1408" y="678">SPOOL IDENTIFICATION</text>
</g>
<text x="1324" y="506">59PAB09BR001 - SP13</text><text x="1324" y="517">59PAB09BR001 - SP12</text><text x="1324" y="528">59PAB09BR001 - SP11A</text><text x="1324" y="539">59PAB09BR001 - SP11</text><text x="1324" y="551">59PAB09BR001 - SP10</text><text x="1324" y="562">59PAB09BR001 - SP9</text><text x="1324" y="573">59PAB09BR001 - SP8</text><text x="1324" y="584">59PAB09BR001 - SP7</text><text x="1324" y="596">59PAB09BR001 - SP6</text><text x="1324" y="607">59PAB09BR001 - SP5</text><text x="1324" y="618">59PAB09BR001 - SP4</text><text x="1324" y="629">59PAB09BR001 - SP3</text><text x="1324" y="641">59PAB09BR001 - SP2</text><text x="1324" y="652">59PAB09BR001 - SP1</text>
<g text-anchor="middle">
<text x="1295" y="692">11A</text><text x="1295" y="703">10C</text><text x="1295" y="714">10A</text><text x="1295" y="733">7A</text><text x="1295" y="744">6A</text><text x="1295" y="755">5A</text><text x="1295" y="766">3A</text><text x="1295" y="777">2A</text><text x="1295" y="788">1A</text><text x="1295" y="799">ITEM.</text>
<text x="1460" y="692">–</text><text x="1460" y="703">DN2200</text><text x="1460" y="714">DN2200</text><text x="1460" y="733">M56 x 380</text><text x="1460" y="744">DN2200</text><text x="1460" y="755">DN2200</text><text x="1460" y="766">DN2200</text><text x="1460" y="777">DN2200</text><text x="1460" y="788">DN2200</text><text x="1460" y="799">SIZE</text>
<text x="1504" y="692">2NOS</text><text x="1504" y="703">1NOS</text><text x="1504" y="714">14NOS</text><text x="1504" y="733">272NOS</text><text x="1504" y="744">4NOS</text><text x="1504" y="755">4NOS</text><text x="1504" y="766">1NOS</text><text x="1504" y="777">2NOS</text><text x="1504" y="788">93.5M</text><text x="1504" y="799">QTY</text>
<text x="1370" y="799">DESCRIPTION</text>
<text x="1408" y="813">MATERIAL LIST</text>
</g>
<text x="1305" y="692">PUDDLE FLANGE, FRP</text><text x="1305" y="703">FIXED SUPPORT (PS-37)</text><text x="1305" y="714">SLIDING SUPPORT W/O STOPPER (PS-31 - PS-36,</text><text x="1310" y="722">PS-38 - PS-45)</text>
<text x="1305" y="733" font-size="3.8">STUD BOLT C/W 2 NUT &amp; WASHER A193 B8M CL1, A194 GR 8M</text><text x="1305" y="744">NEOPRENE GASKET 3MM THK, FF, ANSI 150#</text><text x="1305" y="755">FRP FLANGE, FF, ANSI 150#</text><text x="1305" y="766">45° ELBOW, FRP</text><text x="1305" y="777">90° ELBOW, FRP</text><text x="1305" y="788">FRP PIPE</text>
</g>
<g font-size="5" fill="#111" class="b" style="font-family:'Liberation Sans',sans-serif">
<g text-anchor="middle">
<text x="1294" y="829">4</text><text x="1294" y="840">3</text><text x="1294" y="850">2</text><text x="1294" y="861">1</text><text x="1294" y="872">0</text><text x="1294" y="882">C</text><text x="1294" y="893">B</text><text x="1294" y="904">A</text>
<text x="1408" y="829">27.07.12</text><text x="1408" y="840">10.04.12</text><text x="1408" y="850">21.03.12</text><text x="1408" y="861">20.03.12</text><text x="1408" y="872">08.03.12</text><text x="1408" y="882">20.12.11</text><text x="1408" y="893">22.11.11</text><text x="1408" y="904">03.11.11</text>
<text x="1437" y="829">IZAM</text><text x="1437" y="840">AZIZAN</text><text x="1437" y="850">AZIZAN</text><text x="1437" y="861">AZIZAN</text><text x="1437" y="872">AZIZAN</text><text x="1437" y="882">NAD</text><text x="1437" y="893">NAD</text><text x="1437" y="904">NAD</text>
<text x="1470" y="829">KONG</text><text x="1470" y="840">KONG</text><text x="1470" y="850">SALIM</text><text x="1470" y="861">SALIM</text><text x="1470" y="872">SALIM</text><text x="1470" y="882">SALIM</text><text x="1470" y="893">SALIM</text><text x="1470" y="904">SALIM</text>
<text x="1508" y="829">KONG</text><text x="1508" y="840">KONG</text><text x="1508" y="850">KONG</text><text x="1508" y="861">KONG</text><text x="1508" y="872">KONG</text><text x="1508" y="882">KONG</text><text x="1508" y="893">KONG</text><text x="1508" y="904">KONG</text>
</g>
<text x="1312" y="829">REVISED AS PER COMMENT</text><text x="1312" y="840">REVISED AS PER COMMENT</text><text x="1312" y="850">REVISED AS PER COMMENT</text><text x="1312" y="861">REVISED AS PER COMMENT</text><text x="1312" y="872">ISSUE FOR CONSTRUCTION</text><text x="1312" y="882">FOR APPROVAL</text><text x="1312" y="893">FOR APPROVAL</text><text x="1312" y="904">FIRST ISSUE</text>
</g>
<g font-size="5" fill="#444" text-anchor="middle" style="font-family:'Liberation Sans',sans-serif">
<text x="1294" y="914">Rev.</text><text x="1347" y="914">Text</text><text x="1408" y="914">Date</text><text x="1437" y="914">Prepared</text><text x="1470" y="914">Checked</text><text x="1508" y="914">Approved</text>
</g>
<g font-size="3.5" fill="#333" class="b" style="font-family:'Liberation Sans',sans-serif">
<text x="1291" y="921">Owner:</text><text x="1291" y="947">Project Information :</text><text x="1291" y="973">Consulting Engineer :</text><text x="1291" y="999">WP Drawing No :</text><text x="1291" y="1024">Contractor :</text>
</g>
<g font-size="3.5" fill="#555" style="font-family:'Liberation Sans',sans-serif">
<text x="1290" y="1038">Prepared</text><text x="1290" y="1049">Checked</text><text x="1290" y="1060">Approved</text><text x="1290" y="1071">Revision</text>
<text x="1355" y="1038">Based on</text><text x="1355" y="1049">Responsible dept.</text><text x="1355" y="1060">Takeover dept.</text>
<text x="1409" y="1038">Sep.R. sensit.</text><text x="1435" y="1038">Scale</text><text x="1494" y="1038">Type</text><text x="1507" y="1038">Format</text>
<text x="1409" y="1049">Title</text><text x="1507" y="1072">Language</text><text x="1409" y="1083">Project</text><text x="1460" y="1083">WP</text><text x="1478" y="1083">KKS</text><text x="1409" y="1094">Doc. No.</text>
<text x="1373" y="1109">© ALSTOM 2010. All rights reserved.</text>
</g>
<g fill="#111" style="font-family:'Liberation Sans',sans-serif">
<g font-size="7"><text x="1293" y="1044">NAD</text><text x="1320" y="1044">01.11.2011</text><text x="1293" y="1055">SALIM</text><text x="1320" y="1055">03.11.2011</text><text x="1293" y="1066">KONG</text><text x="1320" y="1066">03.11.2011</text><text x="1293" y="1077">4</text><text x="1356" y="1044">–</text><text x="1356" y="1055">ENG</text>
<text x="1450" y="1044">N.T.S</text><text x="1510" y="1044">A3</text><text x="1510" y="1077">en</text><text x="1409" y="1089">TPV</text><text x="1412" y="1100">TPV/00/M/L62/PA/003</text><text x="1497" y="1101">1</text><text x="1512" y="1101">1</text></g>
<g font-size="4.5" class="b"><text x="1410" y="1056">PIPING ARRANGEMENT</text><text x="1410" y="1063">DRAWING (NEW PIPE FROM</text><text x="1410" y="1070">COOLING WATER CULVERT-DN2200</text><text x="1410" y="1077">ISOMETRIC VIEW)</text></g>
<text x="1509" y="1061" font-size="7">◁⊕</text>
</g>
</svg>
</body></html>
